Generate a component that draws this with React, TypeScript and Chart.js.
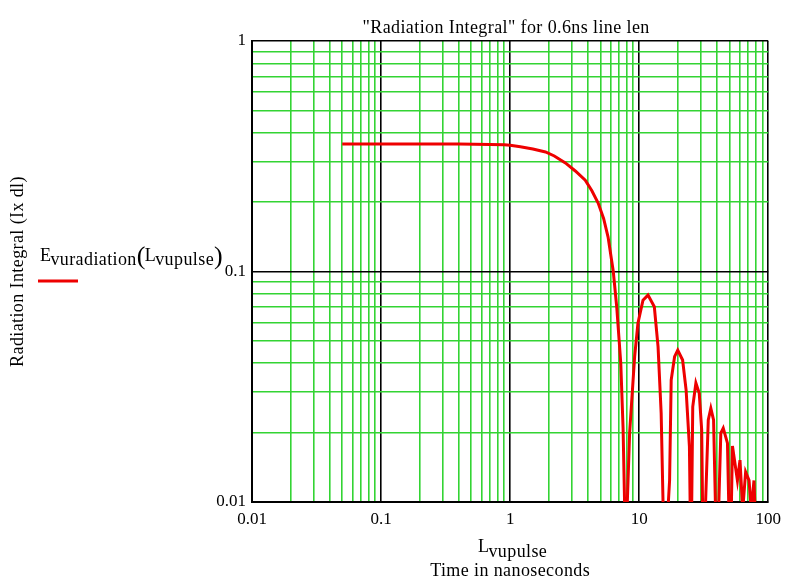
import React, { useEffect, useRef } from 'react';
import { Chart, registerables } from 'chart.js';

Chart.register(...registerables);

// ---- data ----
const timeNs = [
  0.05, 0.1, 0.2, 0.4, 0.7, 0.9, 1.0, 1.2, 1.5, 1.88, 2.2, 2.68, 3.2, 3.82, 4.3, 4.81, 5.3, 5.74, 6.3, 6.7, 7.2, 7.5, 7.85,
  8.43, 9.22, 9.78, 10.7, 11.7, 13.1, 14.0, 14.8, 15.7,
  17.2, 17.7, 18.8, 19.9, 21.7, 23.1, 24.5, 25.2,
  26.0, 27.5, 29.2, 30.5, 31.4,
  34.3, 35.9, 37.7, 40.0,
  42.9, 44.8, 48.3, 50.7,
  52.8, 57.7, 60.4, 63.4, 66.8, 71.0, 73.9, 77.5, 79.8,
];
const radiation = [
  0.357, 0.357, 0.357, 0.357, 0.356, 0.355, 0.353, 0.348, 0.34, 0.33, 0.317, 0.296, 0.273, 0.249, 0.224, 0.198, 0.17, 0.141, 0.1, 0.07, 0.04, 0.021, 0.006,
  0.0199, 0.0427, 0.0596, 0.0751, 0.079, 0.0703, 0.0472, 0.0243, 0.005,
  0.0124, 0.0338, 0.0427, 0.0456, 0.0413, 0.0306, 0.0174, 0.005,
  0.0259, 0.0328, 0.0296, 0.0205, 0.005,
  0.0227, 0.0255, 0.0227, 0.005,
  0.0199, 0.0209, 0.018, 0.005,
  0.0175, 0.0124, 0.0152, 0.0092, 0.0135, 0.0124, 0.0092, 0.0124, 0.008,
];

const xDecades = [0.01, 0.1, 1, 10, 100];
const xTickLabels = ['0.01', '0.1', '1', '10', '100'];
const yDecades = [0.01, 0.1, 1];
const yTickLabels = ['0.01', '0.1', '1'];

const titleText = '"Radiation Integral" for 0.6ns line len';
const yAxisTitle = 'Radiation Integral (Ix dl)';
const legendMain = 'E';
const legendSub = 'vuradiation';
const argMain = 'L';
const argSub = 'vupulse';
const xAxisLine2 = 'Time in nanoseconds';

const SERIF = '"Liberation Serif", "Times New Roman", serif';
const GREEN = '#33d433';
const RED = '#ee0000';

function gridValues(decades: number[]) {
  const out: number[] = [];
  for (let i = 0; i < decades.length - 1; i++) {
    for (let m = 1; m <= 9; m++) out.push(Number((m * decades[i]).toPrecision(6)));
  }
  out.push(decades[decades.length - 1]);
  return out;
}

function decadeIndex(decades: number[], v: number) {
  return decades.findIndex((d) => Math.abs(d - v) / d < 1e-6);
}

const textPlugin = {
  id: 'mathcadTexts',
  afterDraw(chart: any) {
    const ctx = chart.ctx as CanvasRenderingContext2D;
    const a = chart.chartArea;
    ctx.save();
    ctx.fillStyle = '#000';
    (ctx as any).letterSpacing = '0.4px';

    // title
    ctx.font = `18px ${SERIF}`;
    ctx.textAlign = 'center';
    ctx.textBaseline = 'alphabetic';
    ctx.fillText(titleText, (a.left + a.right) / 2 - 4, 33);

    // y axis title (rotated)
    ctx.save();
    ctx.translate(18, (a.top + a.bottom) / 2);
    ctx.rotate(-Math.PI / 2);
    ctx.textBaseline = 'middle';
    ctx.fillText(yAxisTitle, 0, 0);
    ctx.restore();

    // legend-like label: E_vuradiation(L_vupulse)
    ctx.textAlign = 'left';
    ctx.textBaseline = 'alphabetic';
    let x = 40;
    const base = 261;
    ctx.font = `18px ${SERIF}`;
    ctx.fillText(legendMain, x, base);
    x += ctx.measureText(legendMain).width - 1;
    ctx.fillText(legendSub, x, base + 4);
    x += ctx.measureText(legendSub).width;
    ctx.font = `26px ${SERIF}`;
    ctx.fillText('(', x, base + 3);
    x += ctx.measureText('(').width - 1;
    ctx.font = `18px ${SERIF}`;
    ctx.fillText(argMain, x, base);
    x += ctx.measureText(argMain).width - 1;
    ctx.fillText(argSub, x, base + 4);
    x += ctx.measureText(argSub).width;
    ctx.font = `26px ${SERIF}`;
    ctx.fillText(')', x, base + 3);

    // legend line sample
    ctx.strokeStyle = RED;
    ctx.lineWidth = 3;
    ctx.beginPath();
    ctx.moveTo(38, 281);
    ctx.lineTo(78, 281);
    ctx.stroke();

    // x axis title: L_vupulse / Time in nanoseconds
    ctx.font = `18px ${SERIF}`;
    const wMain = ctx.measureText(argMain).width;
    const wSub = ctx.measureText(argSub).width;
    let xx = (a.left + a.right) / 2 + 3 - (wMain + wSub) / 2;
    ctx.fillText(argMain, xx, 552);
    xx += wMain - 1;
    ctx.fillText(argSub, xx, 557);
    ctx.textAlign = 'center';
    ctx.fillText(xAxisLine2, (a.left + a.right) / 2, 576);

    ctx.restore();
  },
};

export default function App() {
  const canvasRef = useRef<HTMLCanvasElement | null>(null);

  useEffect(() => {
    const canvas = canvasRef.current;
    if (!canvas) return;
    const points = timeNs.map((t, i) => ({ x: t, y: radiation[i] }));
    const xGrid = gridValues(xDecades);
    const yGrid = gridValues(yDecades);

    const gridColor = (decades: number[]) => (c: any) =>
      c.tick && decadeIndex(decades, c.tick.value) >= 0 ? '#000000' : GREEN;

    const chart = new Chart(canvas, {
      type: 'line',
      data: {
        datasets: [
          {
            data: points,
            borderColor: RED,
            borderWidth: 3,
            pointRadius: 0,
            tension: 0,
            fill: false,
          },
        ],
      },
      options: {
        animation: false,
        responsive: false,
        events: [],
        layout: { padding: { left: 192, top: 41, right: 17, bottom: 47 } },
        plugins: { legend: { display: false }, tooltip: { enabled: false }, title: { display: false } },
        scales: {
          x: {
            type: 'logarithmic',
            min: 0.01,
            max: 100,
            afterBuildTicks: (s: any) => {
              s.ticks = xGrid.map((v) => ({ value: v }));
            },
            afterFit: (s: any) => {
              s.height = 30;
            },
            grid: { color: gridColor(xDecades), lineWidth: 1.6, drawTicks: false },
            border: { display: true, color: '#000', width: 2 },
            ticks: {
              autoSkip: false,
              maxRotation: 0,
              minRotation: 0,
              padding: 7,
              color: '#000',
              font: { family: SERIF, size: 17 },
              callback: (v: any) => {
                const i = decadeIndex(xDecades, Number(v));
                return i >= 0 ? xTickLabels[i] : '';
              },
            },
          },
          y: {
            type: 'logarithmic',
            min: 0.01,
            max: 1,
            afterBuildTicks: (s: any) => {
              s.ticks = yGrid.map((v) => ({ value: v }));
            },
            afterFit: (s: any) => {
              s.width = 60;
            },
            grid: { color: gridColor(yDecades), lineWidth: 1.6, drawTicks: false },
            border: { display: true, color: '#000', width: 2 },
            ticks: {
              autoSkip: false,
              padding: 6,
              color: '#000',
              font: { family: SERIF, size: 17 },
              callback: (v: any) => {
                const i = decadeIndex(yDecades, Number(v));
                return i >= 0 ? yTickLabels[i] : '';
              },
            },
          },
        },
      },
      plugins: [textPlugin],
    } as any);

    return () => chart.destroy();
  }, []);

  return (
    <div style={{ position: 'absolute', left: 0, top: 0, width: 788, height: 579, background: '#fff' }}>
      <canvas ref={canvasRef} width={788} height={579} style={{ display: 'block' }} />
    </div>
  );
}
